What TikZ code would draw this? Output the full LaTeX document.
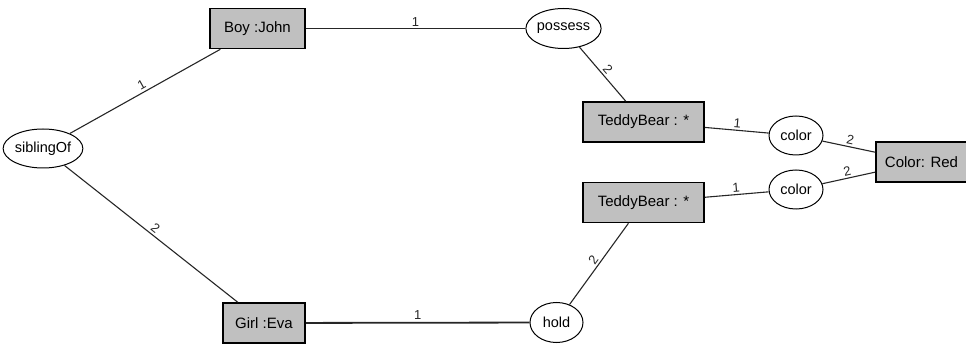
\documentclass[tikz,border=0pt]{standalone}
\usepackage{fontspec}
\setmainfont{Liberation Sans}
\usepackage{tikz}
\usetikzlibrary{shapes.geometric}
\definecolor{conceptgray}{RGB}{192,192,192}

\begin{document}
\begin{tikzpicture}[x=1pt,y=-1pt,
        concept/.style={draw,line width=1.6pt,fill=conceptgray,inner sep=0pt,minimum height=40pt,font=\fontsize{15}{17}\selectfont},
        relation/.style={draw,ellipse,line width=1pt,inner sep=0pt,minimum height=40pt,font=\fontsize{14.5}{17}\selectfont},
        arc/.style={line width=1.1pt,black!85},
        lbl/.style={midway,above,sloped,inner sep=2pt,font=\fontsize{13}{14}\selectfont}]
        \useasboundingbox (0,0) rectangle (966,347);
        % concepts
        \node[concept,minimum width=95pt] (boy) at (257.5,28.5) {Boy :John};
        \node[concept,minimum width=82pt] (girl) at (264,323) {Girl :Eva};
        \node[concept,minimum width=121pt] (bearA) at (643.5,122) {TeddyBear : *};
        \node[concept,minimum width=121pt] (bearB) at (643.5,202.5) {TeddyBear : *};
        \node[concept,minimum width=91pt] (red) at (921.5,162) {Color: Red};
        % relations
        \node[relation,minimum width=68pt,minimum height=39pt] (sib) at (43,148.5) {siblingOf};
        \node[relation,minimum width=67pt] (poss) at (563.5,28.5) {possess};
        \node[relation,minimum width=53pt] (hold) at (556.5,322.5) {hold};
        \node[relation,minimum width=54pt,minimum height=39pt] (colA) at (796,135.5) {color};
        \node[relation,minimum width=54pt,minimum height=39pt] (colB) at (796,189.5) {color};
        % arcs
        \draw[arc] (sib) -- node[lbl] {1} (boy);
        \draw[arc] (sib) -- node[lbl] {2} (girl);
        \draw[arc,line width=0.8pt] (boy) -- node[lbl] {1} (poss);
        \draw[arc] (poss) -- node[lbl] {2} (bearA);
        \draw[arc,line width=1.8pt] (girl) -- node[lbl] {1} (hold);
        \draw[arc] (hold) -- node[lbl] {2} (bearB);
        \draw[arc] (bearA) -- node[lbl] {1} (colA);
        \draw[arc] (colA) -- node[lbl] {2} (red);
        \draw[arc] (bearB) -- node[lbl] {1} (colB);
        \draw[arc] (colB) -- node[lbl] {2} (red);
\end{tikzpicture}
\end{document}
